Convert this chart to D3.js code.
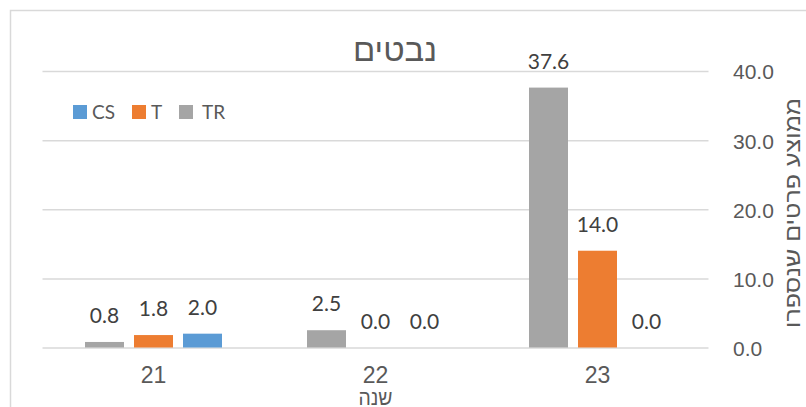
<!DOCTYPE html>
<html lang="he">
<head>
<meta charset="utf-8">
<script src="https://cdn.jsdelivr.net/npm/d3@7/dist/d3.min.js"></script>
<style>
  html, body { margin: 0; padding: 0; background: #ffffff; }
  svg { display: block; }
</style>
</head>
<body>
<svg id="chart" width="806" height="407"></svg>
<script>
// Years on the category axis and the three counted series
const years = ["21", "22", "23"];
const seriesNames = ["CS", "T", "TR"];
const csValues = [2.0, 0.0, 0.0];
const tValues = [1.8, 0.0, 14.0];
const trValues = [0.8, 2.5, 37.6];
const yTicks = [0, 10, 20, 30, 40];

const chartTitle = "נבטים";
const xTitle = "שנה";
const yTitle = "ממוצע פרטים שנספרו";

const colors = { CS: "#5b9bd5", T: "#ed7d31", TR: "#a5a5a5" };
const valuesBySeries = { CS: csValues, T: tValues, TR: trValues };

const svg = d3.select("#chart");
const textColor = "#595959";
const gridColor = "#d9d9d9";

// Outer chart frame
svg.append("rect")
  .attr("x", 10.5).attr("y", 10.5)
  .attr("width", 900).attr("height", 500)
  .attr("fill", "none")
  .attr("stroke", gridColor)
  .attr("stroke-width", 1.5);

const plot = { left: 42.5, right: 708.5, top: 71, bottom: 347.5 };

const x = d3.scaleBand()
  .domain(years)
  .range([plot.left, plot.right])
  .padding(0);

// Right-to-left layout: TR sits on the left of each group, CS on the right
const x1 = d3.scaleBand()
  .domain(["TR", "T", "CS"])
  .range([-68.5, 68.5])
  .paddingInner(10 / 49)
  .paddingOuter(0);

const y = d3.scaleLinear()
  .domain([0, 40])
  .range([plot.bottom, plot.top]);

// Value axis on the right, with gridlines across the plot
const yAxis = d3.axisRight(y)
  .tickValues(yTicks)
  .tickFormat(d3.format(".1f"))
  .tickSizeInner(-(plot.right - plot.left))
  .tickSizeOuter(0)
  .tickPadding(24.5);

const yg = svg.append("g")
  .attr("transform", `translate(${plot.right},0)`)
  .call(yAxis);
yg.select(".domain").remove();
yg.selectAll(".tick line")
  .attr("stroke", gridColor)
  .attr("stroke-width", 1.5);
yg.selectAll(".tick text")
  .attr("fill", textColor)
  .attr("font-family", "'Liberation Sans', Arial, sans-serif")
  .attr("font-size", 21)
  .attr("dy", "0.38em");

// Category axis
const xAxis = d3.axisBottom(x).tickSize(0).tickPadding(19);
const xg = svg.append("g")
  .attr("transform", `translate(0,${plot.bottom})`)
  .call(xAxis);
xg.select(".domain").remove();
xg.selectAll(".tick text")
  .attr("fill", textColor)
  .attr("font-family", "'Liberation Sans Narrow', 'Liberation Sans', Arial, sans-serif")
  .attr("font-size", 23)
  .attr("dy", "0.71em");

// Bars
const rows = [];
years.forEach((yr, i) => {
  seriesNames.forEach(s => rows.push({ year: yr, series: s, value: valuesBySeries[s][i] }));
});

const barX = d => x(d.year) + x.bandwidth() / 2 + x1(d.series);

svg.append("g").selectAll("rect")
  .data(rows)
  .join("rect")
  .attr("x", barX)
  .attr("y", d => y(d.value))
  .attr("width", x1.bandwidth())
  .attr("height", d => y(0) - y(d.value))
  .attr("fill", d => colors[d.series]);

// Value labels above bars
svg.append("g").selectAll("text")
  .data(rows)
  .join("text")
  .attr("x", d => barX(d) + x1.bandwidth() / 2)
  .attr("y", d => y(d.value) - 19)
  .attr("text-anchor", "middle")
  .attr("fill", "#404040")
  .attr("font-family", "Lato, 'Open Sans', sans-serif")
  .attr("font-size", 21)
  .text(d => d3.format(".1f")(d.value));

// Chart title
svg.append("text")
  .attr("x", 395).attr("y", 61)
  .attr("text-anchor", "middle")
  .attr("fill", textColor)
  .attr("font-family", "'Liberation Sans', Arial, sans-serif")
  .attr("font-size", 32)
  .attr("textLength", 84)
  .attr("lengthAdjust", "spacingAndGlyphs")
  .text(chartTitle);

// Axis titles
svg.append("text")
  .attr("x", 375.5).attr("y", 404.5)
  .attr("text-anchor", "middle")
  .attr("fill", textColor)
  .attr("font-family", "'Liberation Sans', Arial, sans-serif")
  .attr("font-size", 21)
  .attr("textLength", 34)
  .attr("lengthAdjust", "spacingAndGlyphs")
  .text(xTitle);

svg.append("text")
  .attr("transform", "translate(792,213) rotate(-90)")
  .attr("text-anchor", "middle")
  .attr("dominant-baseline", "central")
  .attr("fill", textColor)
  .attr("font-family", "'Liberation Sans', Arial, sans-serif")
  .attr("font-size", 21)
  .attr("textLength", 230)
  .attr("lengthAdjust", "spacingAndGlyphs")
  .text(yTitle);

// Legend
const legendItems = [
  { name: "CS", sx: 73, tx: 92 },
  { name: "T", sx: 132, tx: 151 },
  { name: "TR", sx: 179, tx: 202 }
];
const lg = svg.append("g");
lg.selectAll("rect")
  .data(legendItems)
  .join("rect")
  .attr("x", d => d.sx).attr("y", 105)
  .attr("width", 14).attr("height", 14)
  .attr("fill", d => colors[d.name]);
lg.selectAll("text")
  .data(legendItems)
  .join("text")
  .attr("x", d => d.tx).attr("y", 118.5)
  .attr("fill", textColor)
  .attr("font-family", "Lato, 'Open Sans', sans-serif")
  .attr("font-size", 19)
  .text(d => d.name);
</script>
</body>
</html>
